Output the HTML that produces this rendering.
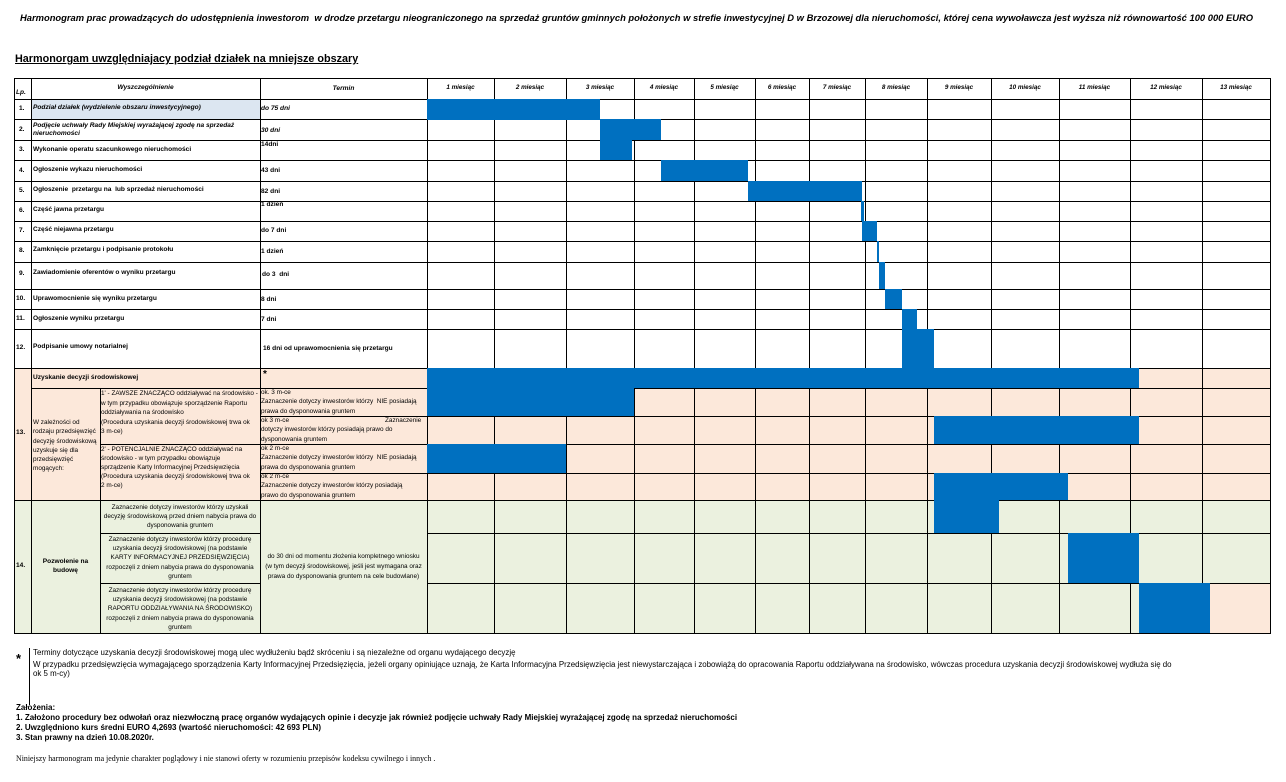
<!DOCTYPE html>
<html><head><meta charset="utf-8"><style>
*{margin:0;padding:0;box-sizing:border-box}
body{width:1286px;height:782px;background:#fff;position:relative;overflow:hidden;font-family:"Liberation Sans",Arial,sans-serif;color:#000}
div{position:absolute}
.h{height:1px;background:#000}
.v{width:1px;background:#000}
.b{background:#0070c0}
.t{font-size:6.6px;font-weight:bold;line-height:8px;white-space:nowrap}
.n{font-size:6.4px;line-height:9.3px}
.m{font-size:6.3px;font-weight:bold;font-style:italic;text-align:center;top:84px}
.c{text-align:center}
</style></head><body>
<div style="left:20px;top:12px;font-size:9.4px;font-weight:bold;font-style:italic;white-space:nowrap">Harmonogram prac prowadzących do udostępnienia inwestorom&nbsp; w drodze przetargu nieograniczonego na sprzedaż gruntów gminnych położonych w strefie inwestycyjnej D w Brzozowej dla nieruchomości, której cena wywoławcza jest wyższa niż równowartość 100 000 EURO</div>
<div style="left:15px;top:53px;font-size:10.8px;font-weight:bold;text-decoration:underline;white-space:nowrap">Harmonorgam uwzględniajacy podział działek na mniejsze obszary</div>

<div style="left:31px;top:99px;width:229px;height:20px;background:#dce6f1"></div>
<div style="left:14px;top:368px;width:1256px;height:132px;background:#fce8da"></div>
<div style="left:14px;top:500px;width:1256px;height:133px;background:#ebf1df"></div>
<div style="left:1202px;top:583px;width:68px;height:50px;background:#fce8da"></div>

<div class="h" style="left:14px;top:78px;width:1257px"></div>
<div class="h" style="left:14px;top:99px;width:1257px"></div>
<div class="h" style="left:14px;top:119px;width:1257px"></div>
<div class="h" style="left:14px;top:140px;width:1257px"></div>
<div class="h" style="left:14px;top:160px;width:1257px"></div>
<div class="h" style="left:14px;top:181px;width:1257px"></div>
<div class="h" style="left:14px;top:201px;width:1257px"></div>
<div class="h" style="left:14px;top:221px;width:1257px"></div>
<div class="h" style="left:14px;top:241px;width:1257px"></div>
<div class="h" style="left:14px;top:262px;width:1257px"></div>
<div class="h" style="left:14px;top:289px;width:1257px"></div>
<div class="h" style="left:14px;top:309px;width:1257px"></div>
<div class="h" style="left:14px;top:329px;width:1257px"></div>
<div class="h" style="left:14px;top:368px;width:1257px"></div>
<div class="h" style="left:31px;top:388px;width:1240px"></div>
<div class="h" style="left:260px;top:416px;width:1011px"></div>
<div class="h" style="left:100px;top:444px;width:1171px"></div>
<div class="h" style="left:260px;top:473px;width:1011px"></div>
<div class="h" style="left:14px;top:500px;width:1257px"></div>
<div class="h" style="left:100px;top:533px;width:160px"></div>
<div class="h" style="left:427px;top:533px;width:844px"></div>
<div class="h" style="left:100px;top:583px;width:160px"></div>
<div class="h" style="left:427px;top:583px;width:844px"></div>
<div class="h" style="left:14px;top:633px;width:1257px"></div>

<div class="v" style="left:14px;top:78px;height:556px"></div>
<div class="v" style="left:31px;top:78px;height:556px"></div>
<div class="v" style="left:100px;top:388px;height:245px"></div>
<div class="v" style="left:260px;top:78px;height:556px"></div>
<div class="v" style="left:427px;top:78px;height:556px"></div>
<div class="v" style="left:494px;top:78px;height:556px"></div>
<div class="v" style="left:566px;top:78px;height:556px"></div>
<div class="v" style="left:634px;top:78px;height:556px"></div>
<div class="v" style="left:694px;top:78px;height:556px"></div>
<div class="v" style="left:755px;top:78px;height:556px"></div>
<div class="v" style="left:809px;top:78px;height:556px"></div>
<div class="v" style="left:865px;top:78px;height:556px"></div>
<div class="v" style="left:927px;top:78px;height:556px"></div>
<div class="v" style="left:991px;top:78px;height:556px"></div>
<div class="v" style="left:1059px;top:78px;height:556px"></div>
<div class="v" style="left:1130px;top:78px;height:556px"></div>
<div class="v" style="left:1202px;top:78px;height:556px"></div>
<div class="v" style="left:1270px;top:78px;height:556px"></div>

<div class="b" style="left:427px;top:99px;width:173px;height:21px"></div>
<div class="b" style="left:600px;top:119px;width:61px;height:21px"></div>
<div class="b" style="left:600px;top:140px;width:32px;height:20px"></div>
<div class="b" style="left:661px;top:160px;width:87px;height:21px"></div>
<div class="b" style="left:748px;top:181px;width:114px;height:20px"></div>
<div class="b" style="left:861px;top:201px;width:3px;height:20px"></div>
<div class="b" style="left:862px;top:221px;width:15px;height:20px"></div>
<div class="b" style="left:877px;top:241px;width:2px;height:21px"></div>
<div class="b" style="left:879px;top:262px;width:6px;height:27px"></div>
<div class="b" style="left:885px;top:289px;width:17px;height:20px"></div>
<div class="b" style="left:902px;top:309px;width:15px;height:20px"></div>
<div class="b" style="left:902px;top:329px;width:32px;height:39px"></div>
<div class="b" style="left:427px;top:368px;width:712px;height:20px"></div>
<div class="b" style="left:427px;top:388px;width:207px;height:28px"></div>
<div class="b" style="left:934px;top:416px;width:205px;height:28px"></div>
<div class="b" style="left:427px;top:444px;width:139px;height:29px"></div>
<div class="b" style="left:934px;top:473px;width:134px;height:27px"></div>
<div class="b" style="left:934px;top:500px;width:65px;height:33px"></div>
<div class="b" style="left:1068px;top:533px;width:71px;height:50px"></div>
<div class="b" style="left:1139px;top:583px;width:71px;height:50px"></div>

<div class="t" style="left:16px;top:89px;font-style:italic">Lp.</div>
<div class="t c" style="left:31px;top:84px;width:229px;font-style:italic">Wyszczególnienie</div>
<div class="t c" style="left:260px;top:85px;width:167px;font-style:italic">Termin</div>
<div class="m t" style="left:427px;width:67px">1 miesiąc</div>
<div class="m t" style="left:494px;width:72px">2 miesiąc</div>
<div class="m t" style="left:566px;width:68px">3 miesiąc</div>
<div class="m t" style="left:634px;width:60px">4 miesiąc</div>
<div class="m t" style="left:694px;width:61px">5 miesiąc</div>
<div class="m t" style="left:755px;width:54px">6 miesiąc</div>
<div class="m t" style="left:809px;width:56px">7 miesiąc</div>
<div class="m t" style="left:865px;width:62px">8 miesiąc</div>
<div class="m t" style="left:927px;width:64px">9 miesiąc</div>
<div class="m t" style="left:991px;width:68px">10 miesiąc</div>
<div class="m t" style="left:1059px;width:71px">11 miesiąc</div>
<div class="m t" style="left:1130px;width:72px">12 miesiąc</div>
<div class="m t" style="left:1202px;width:68px">13 miesiąc</div>

<div class="t" style="left:19px;top:105px">1.</div>
<div class="t" style="left:33px;top:104px;font-style:italic">Podział działek (wydzielenie obszaru inwestycyjnego)</div>
<div class="t" style="left:261px;top:105px;font-style:italic">do 75 dni</div>
<div class="t" style="left:19px;top:126px">2.</div>
<div class="t" style="left:33px;top:122px;font-style:italic">Podjęcie uchwały Rady Miejskiej wyrażającej zgodę na sprzedaż<br>nieruchomości</div>
<div class="t" style="left:261px;top:127px;font-style:italic">30 dni</div>
<div class="t" style="left:19px;top:146px">3.</div>
<div class="t" style="left:33px;top:146px">Wykonanie operatu szacunkowego nieruchomości</div>
<div class="t" style="left:261px;top:141px">14dni</div>
<div class="t" style="left:19px;top:167px">4.</div>
<div class="t" style="left:33px;top:166px">Ogłoszenie wykazu nieruchomości</div>
<div class="t" style="left:261px;top:167px">43 dni</div>
<div class="t" style="left:19px;top:187px">5.</div>
<div class="t" style="left:33px;top:186px">Ogłoszenie&nbsp; przetargu na&nbsp; lub sprzedaż nieruchomości</div>
<div class="t" style="left:261px;top:188px">82 dni</div>
<div class="t" style="left:19px;top:207px">6.</div>
<div class="t" style="left:33px;top:206px">Część jawna przetargu</div>
<div class="t" style="left:261px;top:201px">1 dzień</div>
<div class="t" style="left:19px;top:227px">7.</div>
<div class="t" style="left:33px;top:226px">Część niejawna przetargu</div>
<div class="t" style="left:261px;top:227px">do 7 dni</div>
<div class="t" style="left:19px;top:247px">8.</div>
<div class="t" style="left:33px;top:246px">Zamknięcie przetargu i podpisanie protokołu</div>
<div class="t" style="left:261px;top:248px">1 dzień</div>
<div class="t" style="left:19px;top:270px">9.</div>
<div class="t" style="left:33px;top:269px">Zawiadomienie oferentów o wyniku przetargu</div>
<div class="t" style="left:262px;top:271px">do 3&nbsp; dni</div>
<div class="t" style="left:16px;top:295px">10.</div>
<div class="t" style="left:33px;top:295px">Uprawomocnienie się wyniku przetargu</div>
<div class="t" style="left:261px;top:296px">8 dni</div>
<div class="t" style="left:16px;top:315px">11.</div>
<div class="t" style="left:33px;top:315px">Ogłoszenie wyniku przetargu</div>
<div class="t" style="left:261px;top:316px">7 dni</div>
<div class="t" style="left:16px;top:344px">12.</div>
<div class="t" style="left:33px;top:343px">Podpisanie umowy notarialnej</div>
<div class="t" style="left:263px;top:345px">16 dni od uprawomocnienia się przetargu</div>

<div class="t" style="left:16px;top:429px">13.</div>
<div class="t" style="left:33px;top:374px">Uzyskanie decyzji środowiskowej</div>
<div style="left:263px;top:369px;font-size:10px;font-weight:bold">*</div>
<div class="n" style="left:33px;top:418px;width:67px;white-space:nowrap">W zależności od<br>rodzaju przedsięwzięć<br>decyzję środowiskową<br>uzyskuje się dla<br>przedsięwzięć<br>mogących:</div>
<div class="n" style="left:101px;top:389px;white-space:nowrap;line-height:9.5px">1' - ZAWSZE ZNACZĄCO oddziaływać na środowisko -<br>w tym przypadku obowiązuje sporządzenie Raportu<br>oddziaływania na środowisko<br>(Procedura uzyskania decyzji środowiskowej trwa ok<br>3 m-ce)</div>
<div class="n" style="left:101px;top:445px;white-space:nowrap;line-height:9px">2' - POTENCJALNIE ZNACZĄCO oddziaływać na<br>środowisko - w tym przypadku obowiązuje<br>sprządzenie Karty Informacyjnej Przedsięwzięcia<br>(Procedura uzyskania decyzji środowiskowej trwa ok<br>2 m-ce)</div>
<div class="n" style="left:261px;top:388px;white-space:nowrap">ok. 3 m-ce<br>Zaznaczenie dotyczy inwestorów którzy&nbsp; NIE posiadają<br>prawa do dysponowania gruntem</div>
<div class="n" style="left:261px;top:416px;width:165px;white-space:nowrap">ok 3 m-ce<span style="position:absolute;left:124px">Zaznaczenie</span><br>dotyczy inwestorów którzy posiadają prawo do<br>dysponowania gruntem</div>
<div class="n" style="left:261px;top:444px;white-space:nowrap">ok 2 m-ce<br>Zaznaczenie dotyczy inwestorów którzy&nbsp; NIE posiadają<br>prawa do dysponowania gruntem</div>
<div class="n" style="left:261px;top:472px;white-space:nowrap">ok 2 m-ce<br>Zaznaczenie dotyczy inwestorów którzy posiadają<br>prawo do dysponowania gruntem</div>

<div class="t" style="left:16px;top:562px">14.</div>
<div class="t c" style="left:31px;top:557px;width:69px;line-height:9px">Pozwolenie na<br>budowę</div>
<div class="n c" style="left:100px;top:503px;width:160px;line-height:9px">Zaznaczenie dotyczy inwestorów którzy uzyskali<br>decyzję środowiskową przed dniem nabycia prawa do<br>dysponowania gruntem</div>
<div class="n c" style="left:100px;top:535px;width:160px;line-height:9.2px">Zaznaczenie dotyczy inwestorów którzy procedurę<br>uzyskania decyzji środowiskowej (na podstawie<br>KARTY INFORMACYJNEJ PRZEDSIĘWZIĘCIA)<br>rozpoczęli z dniem nabycia prawa do dysponowania<br>gruntem</div>
<div class="n c" style="left:100px;top:586px;width:160px;line-height:9.2px">Zaznaczenie dotyczy inwestorów którzy procedurę<br>uzyskania decyzji środowiskowej (na podstawie<br>RAPORTU ODDZIAŁYWANIA NA ŚRODOWISKO)<br>rozpoczęli z dniem nabycia prawa do dysponowania<br>gruntem</div>
<div class="n c" style="left:260px;top:552px;width:167px;line-height:10px">do 30 dni od momentu złożenia kompletnego wniosku<br>(w tym decyzji środowiskowej, jeśli jest wymagana oraz<br>prawa do dysponowania gruntem na cele budowlane)</div>

<div style="left:16px;top:651px;font-size:13px;font-weight:bold">*</div>
<div class="v" style="left:29px;top:648px;height:57px"></div>
<div style="left:33px;top:647px;white-space:nowrap;line-height:11.5px;font-size:7.9px">Terminy dotyczące uzyskania decyzji środowiskowej mogą ulec wydłużeniu bądź skróceniu i są niezależne od organu wydającego decyzję<br>W przypadku przedsięwzięcia wymagającego sporządzenia Karty Informacyjnej Przedsięzięcia, jeżeli organy opiniujące uznają, że Karta Informacyjna Przedsięwzięcia jest niewystarczająca i zobowiążą do opracowania Raportu oddziaływana na środowisko, wówczas procedura uzyskania decyzji środowiskowej wydłuża się do<br><span style="position:relative;top:-2px">ok 5 m-cy)</span></div>
<div style="left:16px;top:703px;font-size:8px;font-weight:bold;line-height:10px;white-space:nowrap">Założenia:<br>1. Założono procedury bez odwołań oraz niezwłoczną pracę organów wydających opinie i decyzje jak również podjęcie uchwały Rady Miejskiej wyrażającej zgodę na sprzedaż nieruchomości<br>2. Uwzględniono kurs średni EURO 4,2693 (wartość nieruchomości: 42 693 PLN)<br>3. Stan prawny na dzień 10.08.2020r.</div>
<div style="left:16px;top:754px;font-family:'Liberation Serif',serif;font-size:7.9px;white-space:nowrap">Niniejszy harmonogram ma jedynie charakter poglądowy i nie stanowi oferty w rozumieniu przepisów kodeksu cywilnego i innych .</div>
</body></html>
